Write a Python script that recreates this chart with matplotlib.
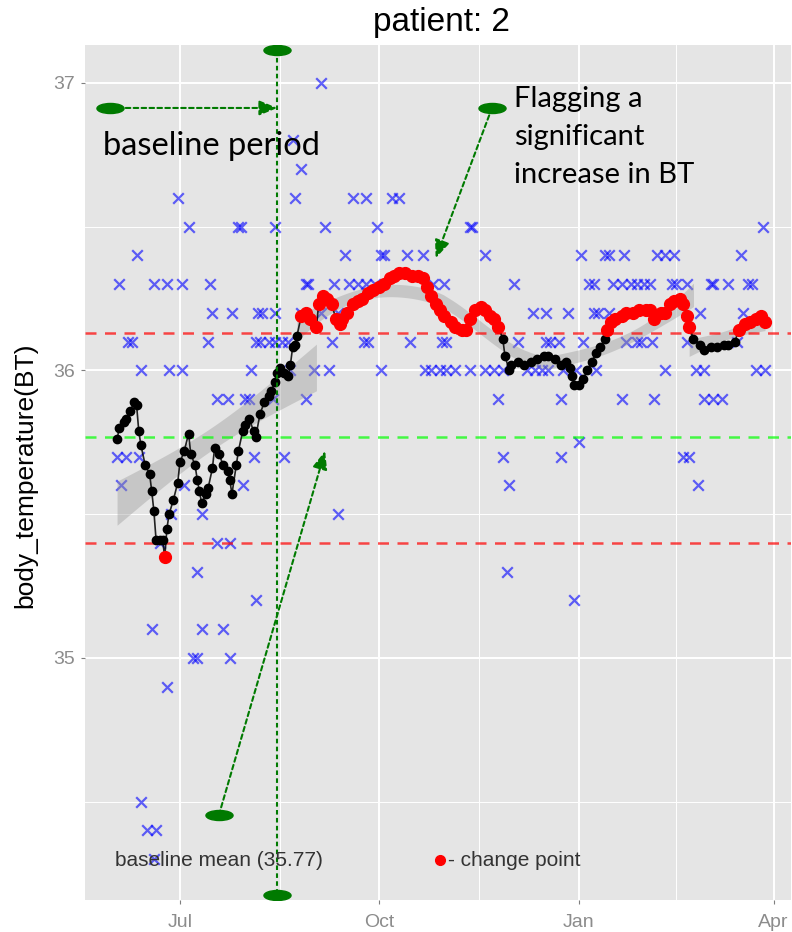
import numpy as np
import matplotlib
matplotlib.use("Agg")
import matplotlib.pyplot as plt
import matplotlib.dates as mdates
from matplotlib.path import Path
from matplotlib.transforms import Affine2D

plt.rcParams['font.family'] = ['Liberation Sans', 'DejaVu Sans']

# Fechas: dias contados desde el 1 de junio de 2014
inicio = mdates.date2num(np.datetime64('2014-06-01'))

# Mediciones crudas (cruces azules), agrupadas por nivel
raw_day = [95,
           82,
           86,
           29, 83, 110, 116, 128, 131,
           34, 57, 58, 74, 97, 121, 164, 165, 299,
           10, 106, 123, 124, 135, 142, 171, 215, 226, 228, 235, 250, 254, 258, 289,
           2, 18, 24, 31, 44, 88, 89, 101, 108, 112, 116, 120, 147, 152, 184, 219, 221, 230,
           234, 238, 241, 244, 247, 257, 259, 264, 275, 276, 283, 292, 294,
           45, 54, 66, 68, 74, 86, 95, 103, 193, 199, 209, 221, 223, 228, 270, 290,
           6, 8, 43, 65, 67, 71, 74, 77, 80, 100, 115, 117, 136, 151, 153, 186, 199, 201, 205,
           216, 236, 241, 243, 248, 264, 287,
           12, 25, 31, 63, 81, 92, 99, 123, 143, 146, 150, 153, 157, 164, 171, 175, 179, 190,
           194, 197, 200, 207, 213, 222, 254, 268, 272, 296, 300,
           47, 52, 60, 62, 73, 88, 177, 206, 234, 249, 272, 276, 280,
           214,
           1, 5, 11, 64, 78, 179, 206, 262, 265,
           3, 32, 59, 182, 269,
           26, 40, 103,
           21, 47, 53,
           38, 181,
           65, 212,
           17, 40, 50,
           36, 38, 53,
           24,
           12,
           15, 19,
           18]
raw_bt = ([37.0] + [36.8] + [36.7] + [36.6]*6 + [36.5]*9 + [36.4]*15 + [36.3]*31 + [36.2]*16
          + [36.1]*26 + [36.0]*29 + [35.9]*13 + [35.75] + [35.7]*9 + [35.6]*5 + [35.5]*3
          + [35.4]*3 + [35.3]*2 + [35.2]*2 + [35.1]*3 + [35.0]*3 + [34.9] + [34.5] + [34.4]*2 + [34.3])

# Serie suavizada (puntos negros / rojos)
bt_day = [1, 2, 4, 5, 7, 9, 10, 11, 12, 14, 16, 17, 18, 19, 21, 22, 23, 24, 25, 27,
          29, 30, 32, 34, 35, 37, 38, 39, 40, 42, 43, 45, 46, 48, 50, 52, 53, 54, 56, 57,
          59, 60, 62, 64, 65, 67, 69, 71, 72, 74, 75, 76, 78, 80, 81, 82, 83, 84,
          86, 88, 90, 93, 94, 96, 98, 100, 102, 104, 105, 107, 110, 112, 114, 117, 119, 122, 124, 127,
          129, 131, 134, 137, 140, 142, 144, 146, 148, 150, 152, 155, 157, 160, 162, 164, 166, 169, 171, 173,
          175, 177,
          179, 180, 182, 183, 186, 189, 192, 195, 198, 200, 203, 206, 208, 210, 211, 212, 214, 216, 218, 220,
          222, 224, 226,
          227, 229, 231, 234, 236, 239, 242, 245, 247, 249, 252, 254, 256, 258, 261, 262, 264, 265,
          267, 270, 272, 275, 278, 281, 283, 286, 288, 291, 293, 296, 298, 300]
bt_val = [35.76, 35.80, 35.82, 35.83, 35.86, 35.89, 35.88, 35.79, 35.74, 35.67,
          35.64, 35.58, 35.51, 35.41, 35.41, 35.41, 35.35, 35.45, 35.50, 35.55,
          35.61, 35.68, 35.72, 35.78, 35.71, 35.67, 35.62, 35.58, 35.54, 35.57,
          35.59, 35.66, 35.73, 35.71, 35.67, 35.65, 35.62, 35.57, 35.67, 35.72,
          35.79, 35.81, 35.83, 35.79, 35.77, 35.85, 35.89, 35.91, 35.93, 35.96,
          35.99, 36.01, 35.99, 35.98, 36.02, 36.08, 36.09, 36.12,
          36.19, 36.20, 36.18, 36.15, 36.23, 36.26, 36.25, 36.23, 36.18, 36.16,
          36.18, 36.20, 36.23, 36.24, 36.25, 36.27, 36.28, 36.29, 36.30, 36.32,
          36.33, 36.34, 36.34, 36.33, 36.33, 36.32, 36.29, 36.26, 36.23, 36.21,
          36.19, 36.17, 36.15, 36.14, 36.14, 36.18, 36.21, 36.22, 36.21, 36.19,
          36.18, 36.15,
          36.11, 36.05, 36.00, 36.02, 36.03, 36.02, 36.03, 36.04, 36.05, 36.05,
          36.04, 36.02, 36.03, 36.01, 35.98, 35.95, 35.95, 35.97, 36.00, 36.03,
          36.06, 36.08, 36.11,
          36.14, 36.17, 36.18, 36.19, 36.20, 36.20, 36.21, 36.21, 36.21, 36.18,
          36.20, 36.20, 36.23, 36.24, 36.25, 36.23, 36.19, 36.15,
          36.11, 36.09, 36.07, 36.08, 36.08, 36.09, 36.09, 36.10, 36.14, 36.16,
          36.17, 36.18, 36.19, 36.17]

media_base = 35.77
limite_sup = 36.13
limite_inf = 35.40
fin_base = 75          # ultimo dia del periodo base
# tramos para el suavizado: (desde, hasta, metodo)
tramos = [(0, 93, 'lm'), (84, 267, 'loess'), (265, 300, 'lm')]

verde = '#007a00'


def loess(x, y, xs, span=0.75, grado=2):
    # regresion local con pesos tricubicos
    n = len(x)
    q = int(np.floor(span * n))

    def fila(x0):
        d = np.abs(x - x0)
        h = np.sort(d)[q - 1]
        w = np.clip(1 - (d / h) ** 3, 0, None) ** 3
        X = np.column_stack([(x - x0) ** k for k in range(grado + 1)])
        A = X.T * w
        return np.linalg.solve(A @ X, A)[0]

    L = np.array([fila(v) for v in x])
    res = y - L @ y
    sigma = np.sqrt(np.sum(res ** 2) / (n - np.trace(L)))
    Ls = np.array([fila(v) for v in xs])
    return Ls @ y, sigma * np.sqrt(np.sum(Ls ** 2, axis=1))


def lineal(x, y, xs):
    b, a = np.polyfit(x, y, 1)
    res = y - (a + b * x)
    sigma = np.sqrt(np.sum(res ** 2) / (len(x) - 2))
    se = sigma * np.sqrt(1 / len(x) + (xs - x.mean()) ** 2 / np.sum((x - x.mean()) ** 2))
    return a + b * xs, se


dias = np.array(bt_day, dtype=float)
vals = np.array(bt_val)
x_raw = inicio + np.array(raw_day)
x_bt = inicio + dias
rojo = (vals > limite_sup) | (vals < limite_inf)

fig = plt.figure(figsize=(7.92, 9.32), dpi=100)
ax = fig.add_axes([85 / 792, 1 - 900 / 932, (791 - 85) / 792, (900 - 45) / 932])
ax.set_facecolor('#e5e5e5')
for s in ax.spines.values():
    s.set_visible(False)

# crudos
ax.scatter(x_raw, raw_bt, marker='x', s=58, color='blue', alpha=0.6, linewidths=1.6, zorder=2)

# bandas de suavizado por tramo
for d0, d1, metodo in tramos:
    m = (dias >= d0) & (dias <= d1)
    xs = np.linspace(dias[m].min(), dias[m].max(), 120)
    f = lineal if metodo == 'lm' else loess
    fit, se = f(dias[m], vals[m], xs)
    ax.fill_between(inicio + xs, fit - 1.96 * se, fit + 1.96 * se, color='#999999', alpha=0.4,
                    lw=0, zorder=3)

# limites
ax.axhline(limite_sup, color='red', alpha=0.7, lw=1.8, ls=(0, (4.4, 3.4)), zorder=3)
ax.axhline(limite_inf, color='red', alpha=0.7, lw=1.8, ls=(0, (4.4, 3.4)), zorder=3)
ax.axhline(media_base, color='#00ff00', alpha=0.7, lw=1.8, ls=(0, (4.4, 3.4)), zorder=3)

# serie
ax.plot(x_bt, vals, color='black', lw=1.2, alpha=0.85, zorder=4)
ax.plot(x_bt[~rojo], vals[~rojo], 'o', color='black', ms=6, zorder=5)
ax.plot(x_bt[rojo], vals[rojo], 'o', color='red', ms=8.5, zorder=5)

# anotaciones
elipse = Path.unit_circle().transformed(Affine2D().scale(2.7, 1))
punteado = (0, (2.2, 1.6))


def flecha(x0, y0, x1, y1):
    ax.annotate('', xy=(inicio + x1, y1), xytext=(inicio + x0, y0),
                arrowprops=dict(arrowstyle='-|>,head_length=1.1,head_width=0.45', color=verde,
                                lw=1.5, linestyle=punteado, shrinkA=0, shrinkB=0), zorder=6)
    ax.plot(inicio + x0, y0, marker=elipse, ms=19.5, color=verde, ls='none', zorder=7)


xb = inicio + fin_base
ax.plot([xb, xb], [37.115, 34.176], color=verde, lw=1.5, ls=punteado, zorder=6)
ax.plot([xb, xb], [37.115, 34.176], marker=elipse, ms=19.5, color=verde, ls='none', zorder=7)

flecha(-2.3, 36.913, fin_base, 36.913)
flecha(174, 36.913, 148, 36.39)
flecha(48, 34.454, 97, 35.72)

ax.text(inicio - 5.5, 36.75, 'baseline period', fontsize=23.5, family='Lato', va='baseline', zorder=8)
for i, linea in enumerate(['Flagging a', 'significant', 'increase in BT']):
    ax.text(inicio + 184, 36.918 - i * 0.133, linea, fontsize=21, family='Lato', va='baseline', zorder=8)

ax.text(inicio + 48, 34.297, 'baseline mean (%.2f)' % media_base, fontsize=15, color='#333333',
        ha='center', va='center', zorder=8)
ax.plot(inicio + 150, 34.297, 'o', color='red', ms=7, zorder=8)
ax.text(inicio + 153.5, 34.297, '- change point', fontsize=15, color='#333333', va='center', zorder=8)

# ejes
ax.set_xlim(inicio - 13.8, inicio + 312)
ax.set_ylim(34.158, 37.132)
ax.xaxis.set_major_locator(mdates.MonthLocator(bymonth=[1, 4, 7, 10]))
ax.xaxis.set_major_formatter(mdates.DateFormatter('%b'))
mayores = ax.get_xticks()
ax.set_xticks((mayores[:-1] + mayores[1:]) / 2, minor=True)
ax.set_yticks([35, 36, 37])
ax.set_yticks([34.5, 35.5, 36.5], minor=True)
ax.grid(which='major', color='white', lw=1.4)
ax.grid(which='minor', color='white', lw=0.7)
ax.set_axisbelow(True)
ax.tick_params(which='major', length=3, color='#7f7f7f', labelcolor='#8c8c8c', labelsize=14, pad=4)
ax.tick_params(axis='x', pad=7)
ax.tick_params(which='minor', length=0)

fig.text(441 / 792, 1 - 23 / 932, 'patient: 2', ha='center', va='center', fontsize=24)
fig.text(25 / 792, 1 - 475 / 932, 'body_temperature(BT)', rotation=90, ha='center', va='center',
         fontsize=19)

fig.savefig('out.png', dpi=100)
